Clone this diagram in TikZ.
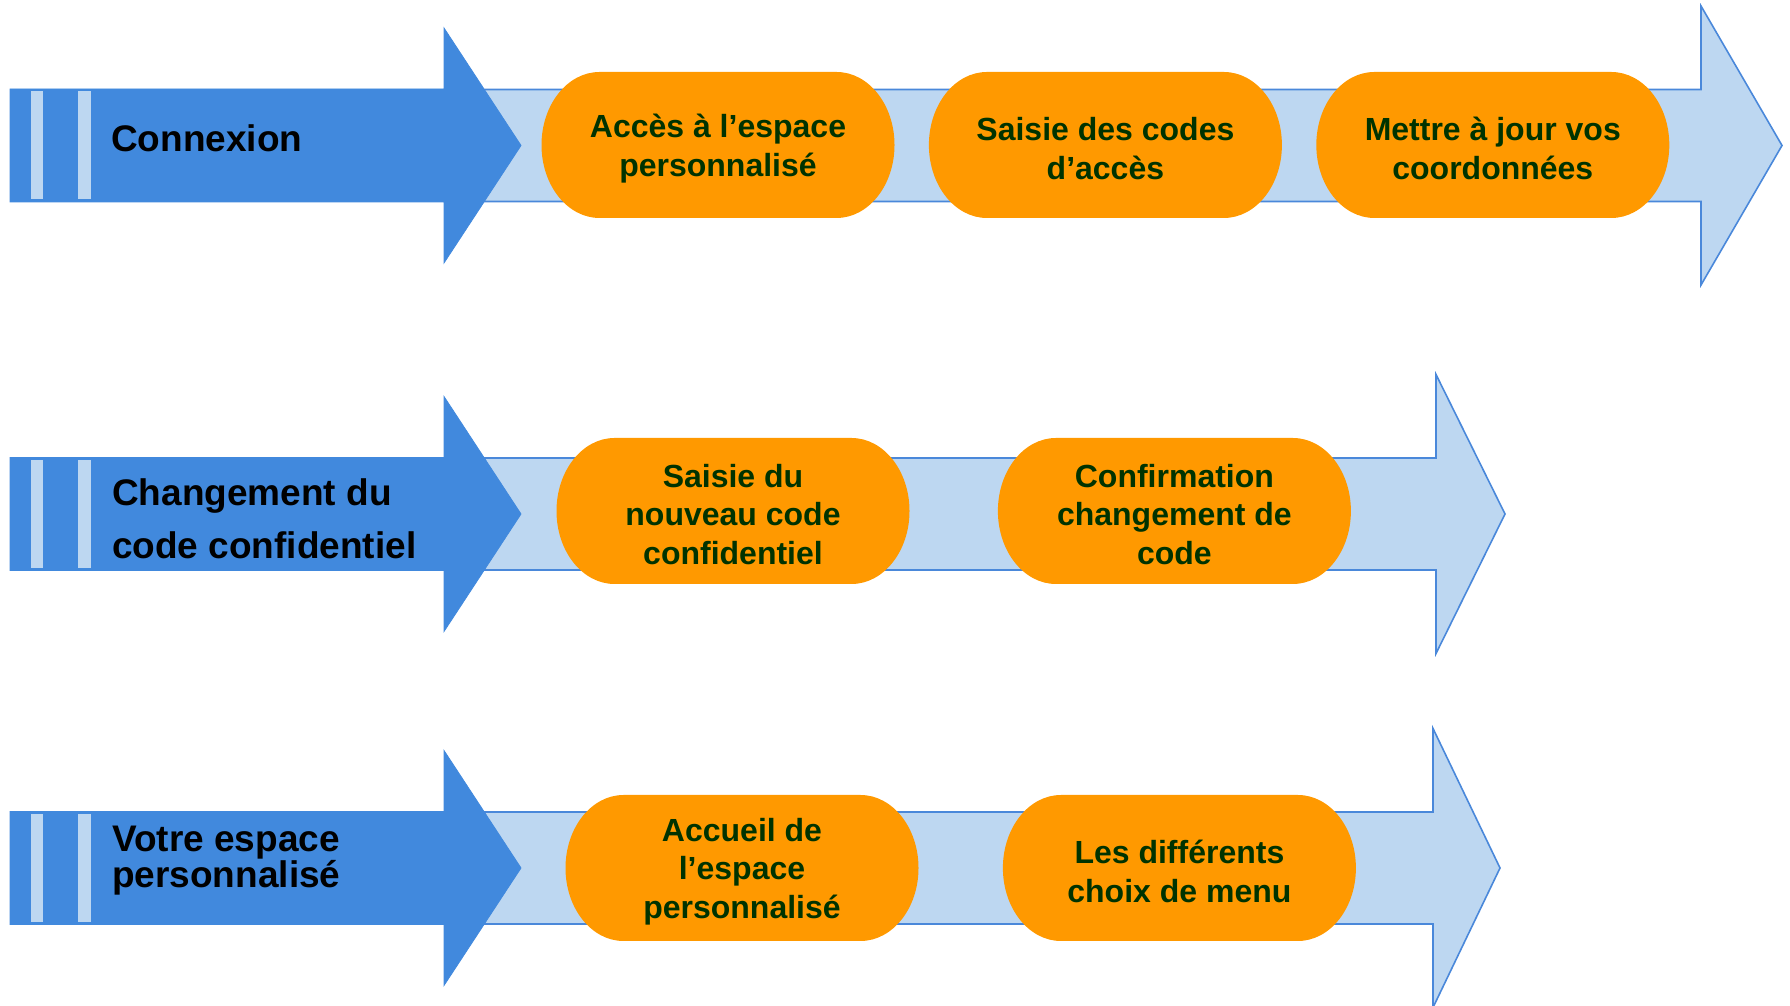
\documentclass[tikz,border=0pt]{standalone}
\usepackage{fontspec}
\setmainfont{Liberation Sans}
\usetikzlibrary{positioning}
\definecolor{flowdark}{RGB}{65,137,221}
\definecolor{flowlight}{RGB}{189,215,241}
\definecolor{flowedge}{RGB}{74,136,218}
\definecolor{steporange}{RGB}{255,153,0}
\definecolor{steptext}{RGB}{0,51,0}
\tikzset{
  rowtitle/.style={anchor=west, inner sep=0pt, align=left, font=\bfseries\fontsize{37}{53}\selectfont},
  lightarrow/.style={fill=flowlight, draw=flowedge, line width=1.6pt, line join=miter},
  darkarrow/.style={fill=flowdark, draw=flowdark, line width=0.8pt},
  stepbox/.style={minimum width=353pt, minimum height=153pt, inner sep=0pt, align=center,
    text=steptext, font=\bfseries\fontsize{32}{38.5}\selectfont,
    path picture={\fill[steporange]
      ([xshift=58pt]path picture bounding box.north west) -- ([xshift=-58pt]path picture bounding box.north east)
      arc[start angle=90, end angle=-90, x radius=58pt, y radius=73pt]
      -- ([xshift=58pt, yshift=7pt]path picture bounding box.south west)
      arc[start angle=270, end angle=90, x radius=58pt, y radius=73pt] -- cycle;}},
}
\begin{document}
\begin{tikzpicture}[x=1pt, y=1pt]
\useasboundingbox (0,0) rectangle (1790,1006);
% arrows, one row each
\foreach \cy/\lb/\lt in {860.5/1701/1782, 492/1436/1505, 138/1433/1500}{
  \draw[lightarrow] (450,\cy+56) -- (\lb,\cy+56) -- (\lb,\cy+139.5) -- (\lt,\cy) -- (\lb,\cy-139.5) -- (\lb,\cy-56) -- (450,\cy-56) -- cycle;
  \filldraw[darkarrow] (10,\cy+56.5) -- (444,\cy+56.5) -- (444,\cy+117.5) -- (521,\cy) -- (444,\cy-117.5) -- (444,\cy-56.5) -- (10,\cy-56.5) -- cycle;
  \fill[flowlight] (31,\cy-54) rectangle (43,\cy+54);
  \fill[flowlight] (78,\cy-54) rectangle (91,\cy+54);
}
% row titles
\node[rowtitle] (t1) at (111,868) {Connexion};
\node[rowtitle] (t2) at (112,487) {Changement du\\code confidentiel};
\node[rowtitle, font=\bfseries\fontsize{37}{36}\selectfont] (t3) at (112,145.5) {Votre espace\\personnalisé};
% steps
\node[stepbox] (p11) at (718,857.5) {Accès à l’espace\\personnalisé};
\node[stepbox, right=34pt of p11] (p12) {Saisie des codes\\d’accès};
\node[stepbox, right=34pt of p12] (p13) {Mettre à jour vos\\coordonnées};
\node[stepbox] (p21) at (733,491.5) {Saisie du\\nouveau code\\confidentiel};
\node[stepbox, right=88pt of p21] (p22) {Confirmation\\changement de\\code};
\node[stepbox] (p31) at (742,134.5) {Accueil de\\l’espace\\personnalisé};
\node[stepbox, right=84pt of p31] (p32) {Les différents\\choix de menu};
\end{tikzpicture}
\end{document}
